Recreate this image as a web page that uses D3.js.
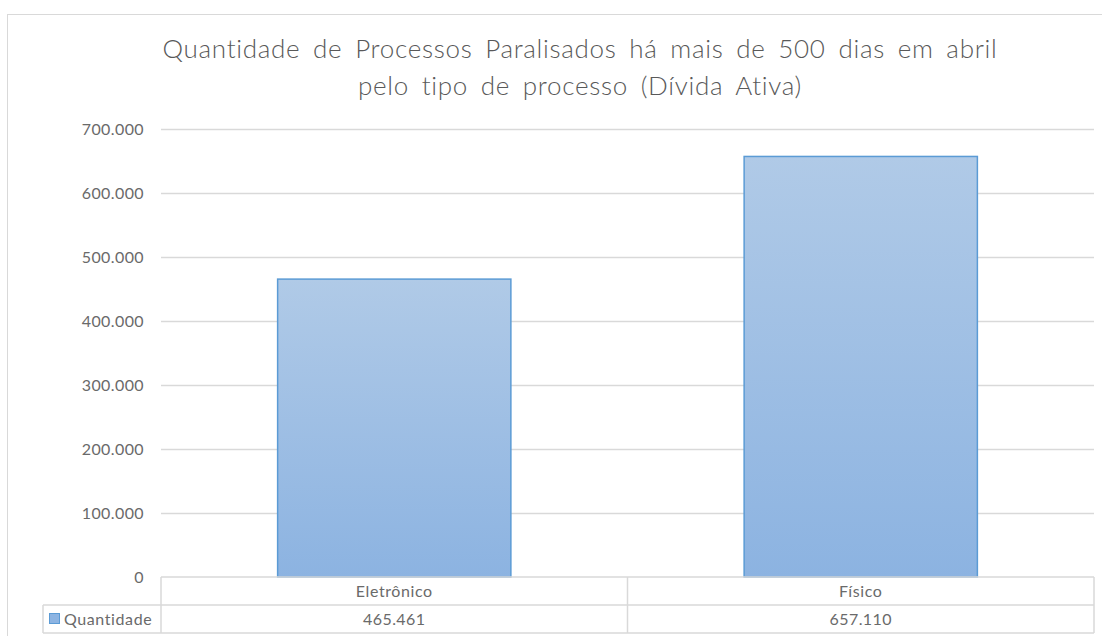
<!DOCTYPE html>
<html>
<head>
<meta charset="utf-8">
<script src="https://cdn.jsdelivr.net/npm/d3@7"></script>
<style>
body { margin: 0; background: #fff; }
text { font-family: Lato, "Open Sans", sans-serif; }
</style>
</head>
<body>
<script>
// data
var categories = ['Eletrônico', 'Físico']
var values = [465461, 657110]
var seriesName = 'Quantidade'
var yTicks = [0, 100000, 200000, 300000, 400000, 500000, 600000, 700000]
var titleLines = ['Quantidade de Processos Paralisados há mais de 500 dias em abril', 'pelo tipo de processo (Dívida Ativa)']

var W = 1102, H = 636
var plotL = 161, plotR = 1094, plotT = 129, plotB = 577
var textCol = '#6a6a6a'

var fmt = function(v) { return d3.format(',')(v).replace(/,/g, '.') }

var svg = d3.select('body').append('svg')
  .attr('width', W)
  .attr('height', H)

var defs = svg.append('defs')
var grad = defs.append('linearGradient')
  .attr('id', 'barGrad')
  .attr('x1', 0).attr('y1', 0).attr('x2', 0).attr('y2', 1)
grad.append('stop').attr('offset', '0%').attr('stop-color', '#b0cae7')
grad.append('stop').attr('offset', '100%').attr('stop-color', '#8cb3e1')

// chart border
svg.append('rect')
  .attr('x', 7.5)
  .attr('y', 14.5)
  .attr('width', 1110)
  .attr('height', 640)
  .attr('fill', 'none')
  .attr('stroke', '#d9d9d9')

// title
svg.append('g').selectAll('text')
  .data(titleLines)
  .enter().append('text')
  .attr('x', 580)
  .attr('y', function(d, i) { return 58 + i * 37 })
  .attr('text-anchor', 'middle')
  .attr('font-size', 26)
  .attr('font-weight', 300)
  .attr('letter-spacing', 0.7)
  .attr('word-spacing', 5)
  .attr('fill', '#595959')
  .text(function(d) { return d })

var x = d3.scaleBand()
  .domain(categories)
  .range([plotL, plotR])
  .paddingInner(0.5)
  .paddingOuter(0.25)

var y = d3.scaleLinear()
  .domain([0, 700000])
  .range([plotB, plotT])

// gridlines
svg.append('g').selectAll('line')
  .data(yTicks.slice(1))
  .enter().append('line')
  .attr('x1', plotL)
  .attr('x2', plotR)
  .attr('y1', function(d) { return Math.round(y(d)) + 0.5 })
  .attr('y2', function(d) { return Math.round(y(d)) + 0.5 })
  .attr('stroke', '#d9d9d9')
  .attr('stroke-width', 1.5)

// y axis labels
var yAxis = d3.axisLeft(y)
  .tickValues(yTicks)
  .tickSize(0)
  .tickPadding(0)
  .tickFormat(fmt)
var gy = svg.append('g')
  .attr('transform', 'translate(144,0)')
  .call(yAxis)
gy.select('.domain').remove()
gy.selectAll('text')
  .attr('font-size', 16)
  .attr('letter-spacing', 0.4)
  .attr('fill', textCol)
  .attr('font-family', 'Lato, "Open Sans", sans-serif')

// bars
svg.append('g').selectAll('rect')
  .data(values)
  .enter().append('rect')
  .attr('x', function(d, i) { return x(categories[i]) })
  .attr('y', function(d) { return y(d) })
  .attr('width', x.bandwidth())
  .attr('height', function(d) { return plotB - y(d) })
  .attr('fill', 'url(#barGrad)')
  .attr('stroke', '#5b9bd5')
  .attr('stroke-width', 1.5)

// data table
var rowH = 28
var tbl = svg.append('g').attr('stroke', '#d9d9d9').attr('stroke-width', 1.5).attr('fill', 'none')
var step = x.step()
var colEdges = [plotL, plotL + step, plotR]
tbl.append('line').attr('x1', plotL).attr('x2', plotR).attr('y1', plotB).attr('y2', plotB)
tbl.append('line').attr('x1', 43).attr('x2', plotR).attr('y1', plotB + rowH).attr('y2', plotB + rowH)
tbl.append('line').attr('x1', 43).attr('x2', plotR).attr('y1', plotB + 2 * rowH).attr('y2', plotB + 2 * rowH)
tbl.append('line').attr('x1', 43).attr('x2', 43).attr('y1', plotB + rowH).attr('y2', plotB + 2 * rowH)
tbl.selectAll('.col')
  .data(colEdges)
  .enter().append('line')
  .attr('x1', function(d) { return d })
  .attr('x2', function(d) { return d })
  .attr('y1', plotB)
  .attr('y2', plotB + 2 * rowH)

svg.append('g').selectAll('text')
  .data(categories)
  .enter().append('text')
  .attr('x', function(d) { return x(d) + x.bandwidth() / 2 })
  .attr('y', plotB + 20)
  .attr('text-anchor', 'middle')
  .attr('font-size', 16)
  .attr('letter-spacing', 0.6)
  .attr('fill', textCol)
  .text(function(d) { return d })

svg.append('g').selectAll('text')
  .data(values)
  .enter().append('text')
  .attr('x', function(d, i) { return x(categories[i]) + x.bandwidth() / 2 })
  .attr('y', plotB + rowH + 20)
  .attr('text-anchor', 'middle')
  .attr('font-size', 16)
  .attr('letter-spacing', 0.4)
  .attr('fill', textCol)
  .text(function(d) { return fmt(d) })

// legend key
svg.append('rect')
  .attr('x', 49.5)
  .attr('y', 613.5)
  .attr('width', 10)
  .attr('height', 10)
  .attr('fill', '#8db4e2')
  .attr('stroke', '#5b9bd5')
svg.append('text')
  .attr('x', 64)
  .attr('y', plotB + rowH + 20)
  .attr('font-size', 16)
  .attr('letter-spacing', 0.6)
  .attr('fill', textCol)
  .text(seriesName)
</script>
</body>
</html>
